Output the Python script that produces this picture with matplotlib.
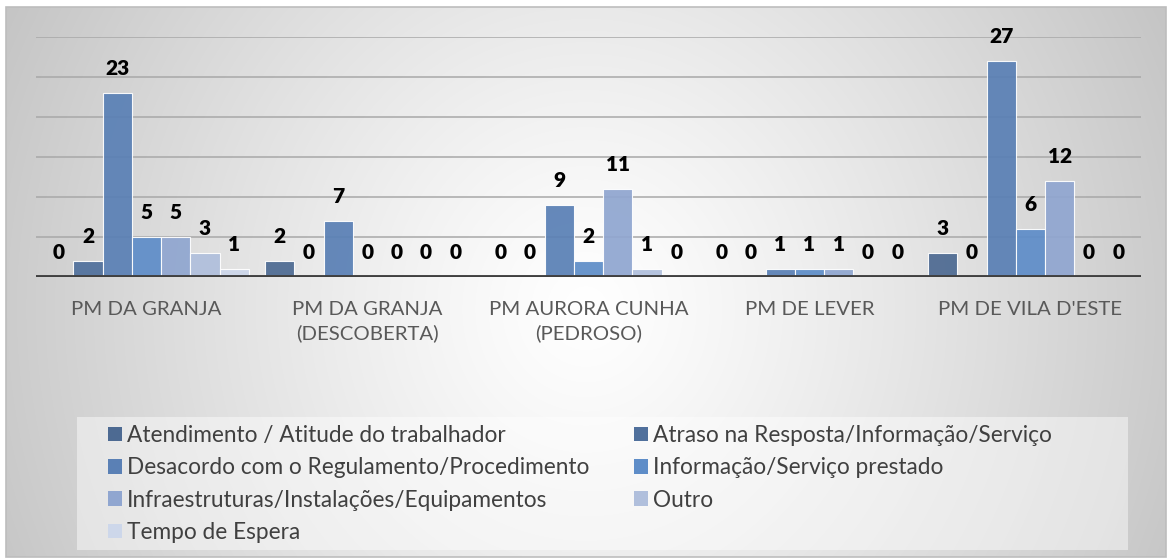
import numpy as np
import matplotlib
matplotlib.use("Agg")
import matplotlib.pyplot as plt
from matplotlib.patches import Rectangle, Patch

plt.rcParams['font.family'] = ['Lato', 'DejaVu Sans']

categories = ["PM DA GRANJA", "PM DA GRANJA\n(DESCOBERTA)", "PM AURORA CUNHA\n(PEDROSO)",
              "PM DE LEVER", "PM DE VILA D'ESTE"]
series_names = ["Atendimento / Atitude do trabalhador",
                "Atraso na Resposta/Informação/Serviço",
                "Desacordo com o Regulamento/Procedimento",
                "Informação/Serviço prestado",
                "Infraestruturas/Instalações/Equipamentos",
                "Outro",
                "Tempo de Espera"]
atendimento = [0, 2, 0, 0, 3]
atraso = [2, 0, 0, 0, 0]
desacordo = [23, 7, 9, 1, 27]
informacao = [5, 0, 2, 1, 6]
infraestruturas = [5, 0, 11, 1, 12]
outro = [3, 0, 1, 0, 0]
tempo = [1, 0, 0, 0, 0]
series_values = [atendimento, atraso, desacordo, informacao, infraestruturas, outro, tempo]
colors = ["#4d6a92", "#50709c", "#5a80b5", "#5e8dc8", "#90a6d0", "#b0bfdc", "#cdd7ea"]

W, H = 1171, 559
fig = plt.figure(figsize=(W / 100, H / 100), dpi=100)

# background with gradient
bg = fig.add_axes([0, 0, 1, 1], zorder=-10)
bg.set_xlim(0, W)
bg.set_ylim(H, 0)
bg.axis('off')
xs = np.linspace(0, 1, 400)
ys = np.linspace(0, 1, 200)
X, Y = np.meshgrid(xs, ys)
t = np.sqrt(((X - 0.5) / 0.5) ** 2 + (0.45 * (Y - 0.55) / 0.5) ** 2)
t = np.clip(t, 0, 1.2)
val = 1.0 - 0.20 * t ** 1.2
img = np.dstack([val, val, val])
bg.imshow(img, extent=(6, 1166, 557, 7), aspect='auto', interpolation='bilinear')
bg.add_patch(Rectangle((6, 7), 1160, 550, fill=False, edgecolor="#bdbdbd", lw=1.2))
bg.add_patch(Rectangle((77, 417), 1051, 133, facecolor="white", alpha=0.45, edgecolor='none'))

# main axes
left, right = 36 / W, 1141 / W
bottom, top = 1 - 277 / H, 1 - 37 / H
ax = fig.add_axes([left, bottom, right - left, top - bottom])
ax.patch.set_alpha(0)
n = len(series_values)
width = 0.1324
x = np.arange(len(categories))
for i, (vals, c) in enumerate(zip(series_values, colors)):
    offs = (i - (n - 1) / 2) * width
    ax.bar(x + offs, vals, width, color=c, alpha=0.93, edgecolor=(1, 1, 1, 0.55),
           linewidth=0.8, zorder=3, label=series_names[i])
    for xi, v in zip(x + offs, vals):
        ax.annotate(str(v), (xi, v), xytext=(0, 13), textcoords='offset points',
                    ha='center', va='baseline', fontsize=15, fontweight='heavy',
                    color='black', zorder=5)

ax.set_xlim(-0.5, 4.5)
ax.set_ylim(0, 30)
for gy in range(5, 31, 5):
    ax.axhline(gy, color="#a8a8a8", lw=1.1, zorder=1)
ax.axhline(0, color="#404040", lw=2.8, zorder=4)
for s in ax.spines.values():
    s.set_visible(False)
ax.set_yticks([])
ax.set_xticks(x)
ax.set_xticklabels(categories, fontsize=14.7, color="#595959", linespacing=1.45)
ax.tick_params(axis='x', length=0, pad=17)

# legend (row-major order, two columns)
handles = [Patch(facecolor=c, edgecolor='none') for c in colors]
col1 = [0, 2, 4, 6]
col2 = [1, 3, 5]
common = dict(frameon=False, fontsize=16.3, labelcolor="#404040", handlelength=0.6,
              handleheight=0.6, handletextpad=0.25, labelspacing=0.5, borderpad=0,
              borderaxespad=0, loc='upper left')
fig.legend([handles[i] for i in col1], [series_names[i] for i in col1],
           bbox_to_anchor=(108 / W, 1 - 425 / H), **common)
fig.legend([handles[i] for i in col2], [series_names[i] for i in col2],
           bbox_to_anchor=(634 / W, 1 - 425 / H), **common)

fig.savefig("out.png", dpi=100)
